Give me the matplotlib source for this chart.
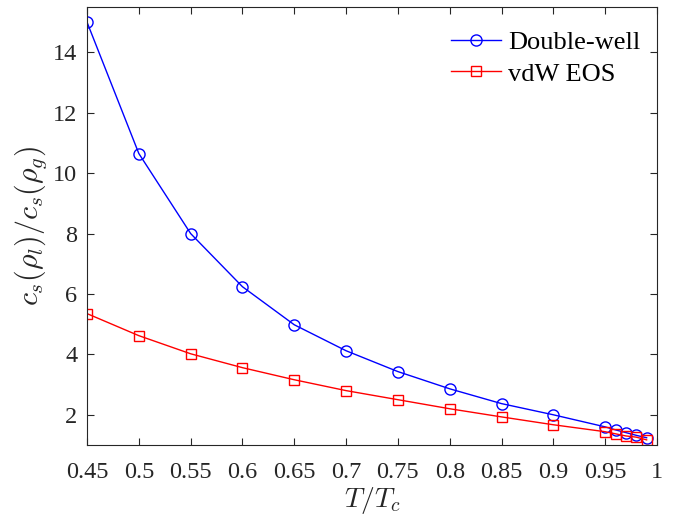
import matplotlib
matplotlib.use("Agg")
from matplotlib import pyplot as plt

plt.rcParams['font.family'] = ['Liberation Serif', 'DejaVu Serif']
plt.rcParams['mathtext.fontset'] = 'cm'

T_ratio = [0.45, 0.5, 0.55, 0.6, 0.65, 0.7, 0.75, 0.8, 0.85, 0.9,
           0.95, 0.96, 0.97, 0.98, 0.99]
double_well = [15.0, 10.65, 8.0, 6.24, 4.98, 4.12, 3.43, 2.86, 2.37, 2.0,
               1.6, 1.5, 1.41, 1.32, 1.24]
vdw_eos = [5.35, 4.62, 4.02, 3.56, 3.16, 2.80, 2.50, 2.2, 1.93, 1.67,
           1.44, 1.37, 1.30, 1.26, 1.17]
x_ticks = [0.45, 0.5, 0.55, 0.6, 0.65, 0.7, 0.75, 0.8, 0.85, 0.9, 0.95, 1]
x_tick_labels = ['0.45', '0.5', '0.55', '0.6', '0.65', '0.7', '0.75',
                 '0.8', '0.85', '0.9', '0.95', '1']
y_ticks = [2, 4, 6, 8, 10, 12, 14]

fig = plt.figure(figsize=(6.78, 5.17), dpi=100)
ax = fig.add_axes([87 / 678, 1 - 445 / 517, 570 / 678, 438 / 517])

ax.plot(T_ratio, double_well, color='blue', marker='o', markersize=8,
        markerfacecolor='none', linewidth=1, label='Double-well')
ax.plot(T_ratio, vdw_eos, color='red', marker='s', markersize=7,
        markerfacecolor='none', linewidth=1, label='vdW EOS')

ax.set_xlim(0.45, 1)
ax.set_ylim(1.0, 15.5)
ax.set_xticks(x_ticks)
ax.set_xticklabels(x_tick_labels)
ax.set_yticks(y_ticks)
ax.tick_params(direction='in', top=True, right=True, labelsize=17.5,
               colors='#262626', length=5, width=0.8)
ax.tick_params(axis='x', pad=12)
ax.tick_params(axis='y', pad=7)
for spine in ax.spines.values():
    spine.set_color('#262626')
    spine.set_linewidth(0.8)

ax.set_xlabel(r'$T/T_c$', fontsize=20, color='#262626', labelpad=2)
ax.set_ylabel(r'$c_s(\rho_l)/c_s(\rho_g)$', fontsize=21.5, color='#262626',
              labelpad=3)

ax.legend(loc='upper right', bbox_to_anchor=(1.012, 1), frameon=False,
          fontsize=19, handlelength=1.9, handletextpad=0.25,
          borderaxespad=0.5, labelspacing=0.3)

fig.savefig('out.png', dpi=100)
